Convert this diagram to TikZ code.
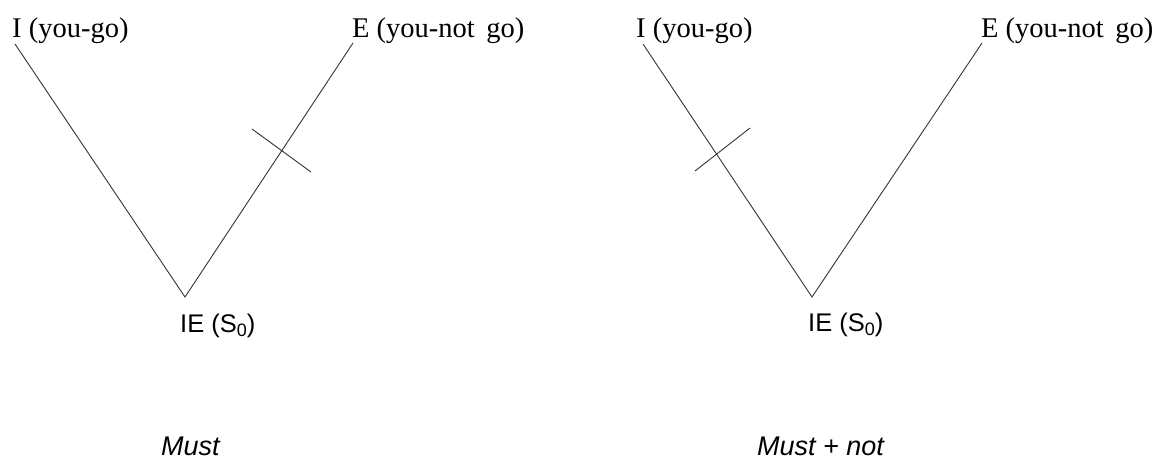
\documentclass[tikz,border=0pt]{standalone}
\usepackage{fontspec}
\setmainfont{Liberation Serif}
\setsansfont{Liberation Sans}
\begin{document}
\begin{tikzpicture}[x=1pt,y=-1pt,
  edge/.style={draw=black!80,line width=0.9pt},
  serlab/.style={anchor=base west,inner sep=0pt,font=\fontsize{28.5}{30}\selectfont},
  rootlab/.style={anchor=base west,inner sep=0pt,font=\sffamily\fontsize{25.5}{28}\selectfont},
  caplab/.style={anchor=base west,inner sep=0pt,font=\sffamily\itshape\fontsize{27}{30}\selectfont}]
\useasboundingbox (0,0) rectangle (1157,459);
% left diagram
\node[serlab] (LI) at (12,37) {I (you-go)};
\node[serlab] (LE) at (352,37) {E (you-not\hspace{0.15em} go)};
\node[rootlab] (LR) at (180,332) {IE (S\raisebox{-0.3ex}{\fontsize{18}{20}\selectfont 0})};
\node[caplab] (LM) at (161,455) {Must};
\coordinate (lit) at (15,44);
\coordinate (let) at (353,43);
\coordinate (lb) at (185,297);
\coordinate (lc1) at (252,129);
\coordinate (lc2) at (311,172);
\draw[edge] (lit) -- (lb) -- (let);
\draw[edge] (lc1) -- (lc2);
% right diagram
\node[serlab] (RI) at (636,37) {I (you-go)};
\node[serlab] (RE) at (981,37) {E (you-not\hspace{0.15em} go)};
\node[rootlab] (RR) at (808,331) {IE (S\raisebox{-0.3ex}{\fontsize{18}{20}\selectfont 0})};
\node[caplab] (RM) at (757,455) {Must + not};
\coordinate (rit) at (643,44);
\coordinate (ret) at (982,43);
\coordinate (rb) at (812,297);
\coordinate (rc1) at (695,171);
\coordinate (rc2) at (750,128);
\draw[edge] (rit) -- (rb) -- (ret);
\draw[edge] (rc1) -- (rc2);
\end{tikzpicture}
\end{document}
